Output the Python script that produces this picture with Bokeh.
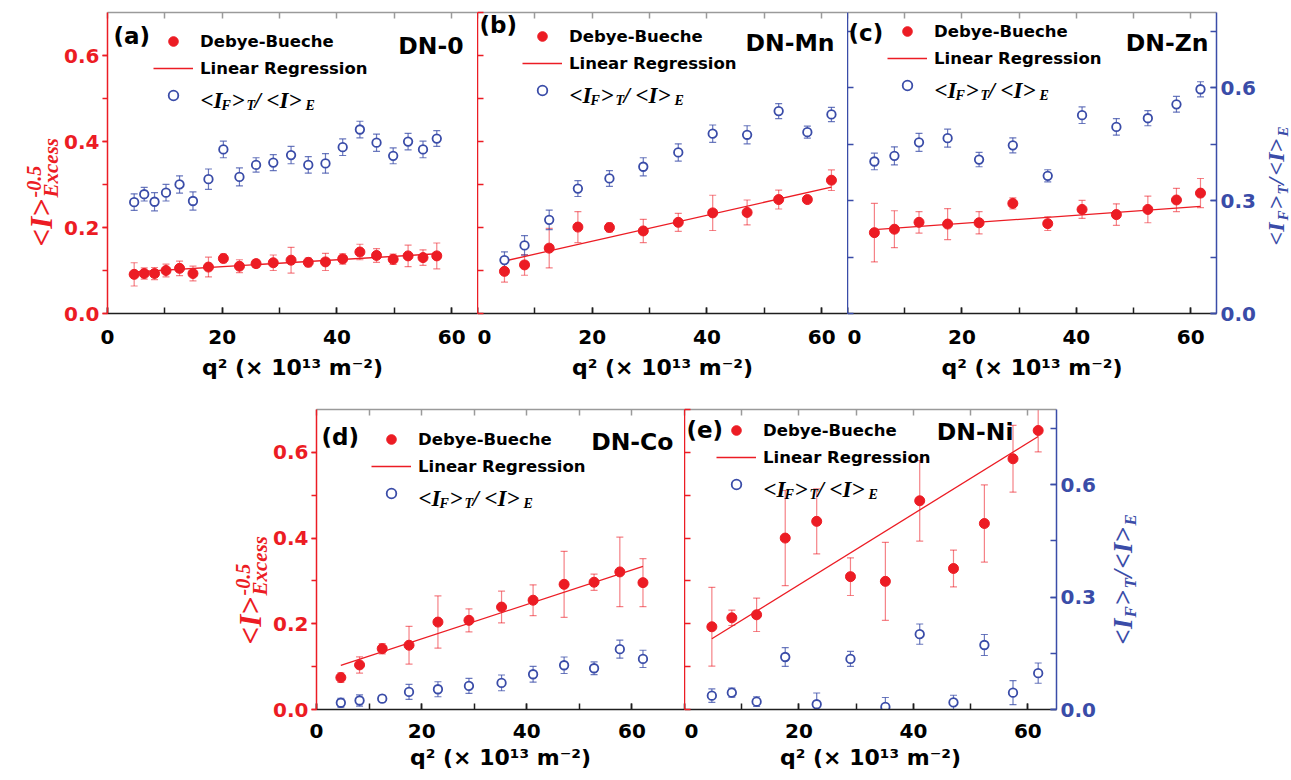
import math
from bokeh.plotting import figure
from bokeh.models import (Range1d, LinearAxis, SingleIntervalTicker, FixedTicker, PrintfTickFormatter,
                          Whisker, TeeHead, ColumnDataSource, Legend, LegendItem, Label)
from bokeh.layouts import column, row
from bokeh.embed import file_html
from bokeh.resources import INLINE

# ---------------- data ----------------
# (a) DN-0
q2_a = [4.65, 6.4, 8.2, 10.2, 12.56, 14.9, 17.6, 20.2, 23.0, 25.9, 28.9, 32.0, 35.0, 38.0, 41.0, 44.0, 46.9, 49.8, 52.4, 55.0, 57.4]
db_a = [0.091, 0.093, 0.093, 0.100, 0.105, 0.093, 0.108, 0.128, 0.110, 0.116, 0.118, 0.124, 0.119, 0.120, 0.127, 0.143, 0.135, 0.126, 0.134, 0.130, 0.134]
db_err_a = [0.027, 0.013, 0.014, 0.015, 0.017, 0.017, 0.023, 0.010, 0.015, 0.009, 0.018, 0.030, 0.010, 0.020, 0.012, 0.018, 0.016, 0.012, 0.025, 0.018, 0.030]
ratio_a = [0.296, 0.317, 0.297, 0.321, 0.343, 0.299, 0.357, 0.436, 0.363, 0.395, 0.401, 0.421, 0.395, 0.399, 0.442, 0.489, 0.454, 0.419, 0.457, 0.436, 0.465]
ratio_err_a = [0.022, 0.018, 0.024, 0.022, 0.023, 0.024, 0.027, 0.022, 0.024, 0.019, 0.021, 0.023, 0.022, 0.026, 0.022, 0.022, 0.023, 0.021, 0.022, 0.022, 0.021]
fit_x_a = [4.65, 57.4]
fit_y_a = [0.0965, 0.139]

# common q^2 values of panels (b) and (c)
q2_b = [4.7, 8.2, 12.5, 17.5, 23.0, 28.9, 35.0, 41.0, 47.0, 52.5, 57.5, 61.7]

# (b) DN-Mn
db_b = [0.098, 0.113, 0.152, 0.201, 0.200, 0.192, 0.212, 0.234, 0.235, 0.265, 0.265, 0.310]
db_err_b = [0.025, 0.024, 0.046, 0.036, 0.010, 0.027, 0.021, 0.041, 0.029, 0.022, 0.005, 0.024]
ratio_b = [0.142, 0.181, 0.249, 0.332, 0.359, 0.390, 0.428, 0.478, 0.475, 0.538, 0.482, 0.529]
ratio_err_b = [0.022, 0.026, 0.026, 0.021, 0.021, 0.024, 0.023, 0.023, 0.024, 0.020, 0.016, 0.019]
fit_x_b = [4.7, 61.7]
fit_y_b = [0.122, 0.294]

# (c) DN-Zn
db_c = [0.188, 0.196, 0.212, 0.208, 0.211, 0.256, 0.209, 0.242, 0.230, 0.242, 0.264, 0.280]
db_err_c = [0.068, 0.043, 0.025, 0.036, 0.026, 0.013, 0.016, 0.021, 0.025, 0.031, 0.027, 0.034]
ratio_c = [0.404, 0.419, 0.455, 0.466, 0.409, 0.447, 0.366, 0.527, 0.496, 0.519, 0.556, 0.596]
ratio_err_c = [0.022, 0.024, 0.024, 0.024, 0.019, 0.020, 0.016, 0.022, 0.022, 0.020, 0.021, 0.020]
fit_x_c = [4.7, 61.7]
fit_y_c = [0.195, 0.249]

# (d) DN-Co
q2_d = [4.63, 8.19, 12.5, 17.6, 23.1, 29.0, 35.2, 41.2, 47.1, 52.8, 57.7, 62.1]
db_d = [0.0745, 0.104, 0.142, 0.150, 0.204, 0.208, 0.239, 0.255, 0.292, 0.297, 0.321, 0.296]
db_err_d = [0.011, 0.019, 0.012, 0.044, 0.061, 0.027, 0.037, 0.036, 0.077, 0.019, 0.081, 0.056]
ratio_d = [0.018, 0.024, 0.029, 0.047, 0.054, 0.063, 0.071, 0.094, 0.118, 0.110, 0.161, 0.135]
ratio_err_d = [0.012, 0.015, 0.009, 0.020, 0.020, 0.020, 0.021, 0.021, 0.022, 0.017, 0.024, 0.023]
fit_x_d = [4.63, 62.1]
fit_y_d = [0.103, 0.334]

# (e) DN-Ni
q2_e = [4.78, 8.27, 12.6, 17.6, 23.1, 29.0, 35.1, 41.1, 47.0, 52.4, 57.4, 61.8]
db_e = [0.193, 0.214, 0.221, 0.400, 0.439, 0.310, 0.299, 0.487, 0.329, 0.434, 0.585, 0.651]
db_err_e = [0.092, 0.018, 0.039, 0.111, 0.076, 0.044, 0.091, 0.094, 0.043, 0.090, 0.078, 0.050]
ratio_e = [0.037, 0.045, 0.021, 0.140, 0.014, 0.135, 0.007, 0.201, 0.019, 0.172, 0.045, 0.097]
ratio_err_e = [0.018, 0.012, 0.013, 0.025, 0.030, 0.020, 0.025, 0.027, 0.019, 0.028, 0.032, 0.027]
fit_x_e = [4.78, 61.8]
fit_y_e = [0.165, 0.637]

panel_tags = ["(a)", "(b)", "(c)", "(d)", "(e)"]
sample_names = ["DN-0", "DN-Mn", "DN-Zn", "DN-Co", "DN-Ni"]
legend_labels = ["Debye-Bueche", "Linear Regression"]
x_title = "q² (× 10¹³ m⁻²)"

# ---------------- styles ----------------
RED = "#EC1C24"
BLUE = "#3A4CA8"
DARK = "#1E1E1E"
GREY = "#9A9A9A"
SANS = "DejaVu Sans"
SERIF = "Liberation Serif"
RED_MINOR = [i / 10 for i in range(0, 8)]
BLUE_MINOR = [i * 0.15 for i in range(0, 6)]
TOP_MINOR = list(range(0, 71, 10))


def x_axes(p, tick_off, label_off):
    bot = LinearAxis(ticker=SingleIntervalTicker(interval=20, num_minor_ticks=2),
                     major_tick_in=6, major_tick_out=0, minor_tick_in=6, minor_tick_out=0,
                     axis_line_color=DARK, major_tick_line_color=DARK, minor_tick_line_color=DARK,
                     axis_line_width=1.5, major_tick_line_width=1.5, minor_tick_line_width=1.5,
                     major_label_text_font=SANS, major_label_text_font_style="bold",
                     major_label_text_font_size="20px", major_label_text_color="black",
                     major_label_standoff=tick_off,
                     axis_label=x_title, axis_label_text_font=SANS,
                     axis_label_text_font_style="bold", axis_label_text_font_size="22px",
                     axis_label_text_color="black", axis_label_standoff=label_off)
    p.add_layout(bot, "below")
    top = LinearAxis(ticker=FixedTicker(ticks=[], minor_ticks=TOP_MINOR),
                     major_tick_in=0, major_tick_out=0, minor_tick_in=6, minor_tick_out=0,
                     axis_line_color=GREY, minor_tick_line_color=GREY, axis_line_width=1.5,
                     minor_tick_line_width=1.5, major_label_standoff=0)
    p.add_layout(top, "above")


def y_axis(p, side, scale, labelled):
    color = RED if scale == "red" else BLUE
    rng = "default" if scale == "red" else "blue"
    if labelled:
        outward = side == "left"
        ax = LinearAxis(y_range_name=rng,
                        ticker=SingleIntervalTicker(interval=0.2 if scale == "red" else 0.3,
                                                    num_minor_ticks=2),
                        formatter=PrintfTickFormatter(format="%.1f"),
                        major_tick_in=0 if outward else 6, major_tick_out=5 if outward else 0,
                        minor_tick_in=0 if outward else 6, minor_tick_out=5 if outward else 0,
                        major_label_text_font=SANS, major_label_text_font_style="bold",
                        major_label_text_color=color, major_label_text_font_size="20px",
                        major_label_standoff=3 if side == "left" else 4)
    else:
        ax = LinearAxis(y_range_name=rng,
                        ticker=FixedTicker(ticks=[], minor_ticks=RED_MINOR if scale == "red" else BLUE_MINOR),
                        major_tick_in=0, major_tick_out=0, minor_tick_in=6, minor_tick_out=0,
                        major_label_standoff=0)
    ax.axis_line_color = color
    ax.major_tick_line_color = color
    ax.minor_tick_line_color = color
    ax.axis_line_width = 1.5
    ax.major_tick_line_width = 1.5
    ax.minor_tick_line_width = 1.5
    p.add_layout(ax, side)


def rich(p, pieces, color, angle=0.0):
    for txt, x, y, size in pieces:
        p.add_layout(Label(x=x, y=y, x_units="screen", y_units="screen", text=txt,
                           angle=angle, text_font=SERIF, text_font_style="bold italic",
                           text_font_size=f"{size}px", text_color=color,
                           text_align="left", text_baseline="alphabetic"))


def panel(q2, db, db_err, ratio, ratio_err, fx, fy, xmax, fw, fh, borders, offs,
          axes, tag, name, tag_pos, name_pos, leg_pos):
    bl, br, bt, bb = borders
    p = figure(frame_width=fw, frame_height=fh, x_range=Range1d(0, xmax), y_range=Range1d(0, 0.7),
               x_axis_location=None, y_axis_location=None, toolbar_location=None,
               output_backend="svg", min_border_left=bl, min_border_right=br,
               min_border_top=bt, min_border_bottom=bb, outline_line_color=None,
               background_fill_color="white", border_fill_color="white")
    p.extra_y_ranges = {"blue": Range1d(0, 0.8)}
    p.xgrid.visible = False
    p.ygrid.visible = False
    x_axes(p, *offs)
    for side, scale, labelled in axes:
        y_axis(p, side, scale, labelled)

    s_db = ColumnDataSource(dict(x=q2, y=db,
                                 lo=[v - e for v, e in zip(db, db_err)],
                                 hi=[v + e for v, e in zip(db, db_err)]))
    s_r = ColumnDataSource(dict(x=q2, y=ratio,
                                lo=[v - e for v, e in zip(ratio, ratio_err)],
                                hi=[v + e for v, e in zip(ratio, ratio_err)]))
    for src, col, alpha, rname in ((s_db, RED, 0.55, "default"), (s_r, BLUE, 0.75, "blue")):
        p.add_layout(Whisker(source=src, base="x", lower="lo", upper="hi", dimension="height",
                             y_range_name=rname, level="underlay",
                             line_color=col, line_alpha=alpha, line_width=1.2,
                             upper_head=TeeHead(size=7, line_color=col, line_alpha=alpha, line_width=1.2),
                             lower_head=TeeHead(size=7, line_color=col, line_alpha=alpha, line_width=1.2)))
    r_fit = p.line(fx, fy, line_color=RED, line_width=1.3)
    r_db = p.scatter("x", "y", source=s_db, size=10, fill_color=RED, line_color=RED)
    r_r = p.scatter("x", "y", source=s_r, y_range_name="blue", size=8.5, fill_color="white",
                    line_color=BLUE, line_width=1.8)

    lx, ltop = leg_pos
    leg_h = 3 * 24 + 2 * 3
    leg = Legend(items=[LegendItem(label=legend_labels[0], renderers=[r_db]),
                        LegendItem(label=legend_labels[1], renderers=[r_fit]),
                        LegendItem(label=" ", renderers=[r_r])],
                 location=(lx, fh - ltop - leg_h), glyph_width=40, glyph_height=24, label_height=24,
                 spacing=3, padding=0, margin=0, label_standoff=7,
                 border_line_color=None, background_fill_alpha=0,
                 label_text_font=SANS, label_text_font_style="bold", label_text_font_size="16.5px",
                 label_text_color="black")
    p.add_layout(leg)
    # third legend label with sub-scripts
    x0 = lx + 47
    yb = fh - (ltop + 2 * 27 + 12 + 5)
    rich(p, [("<I", x0, yb, 23), ("F", x0 + 21, yb - 5, 14), (">", x0 + 31, yb, 23),
             ("T", x0 + 46, yb - 5, 14), ("/", x0 + 54, yb, 23), ("<I>", x0 + 66, yb, 23),
             ("E", x0 + 105, yb - 5, 14)], "black")

    p.add_layout(Label(x=tag_pos[0], y=fh - tag_pos[1], x_units="screen", y_units="screen",
                       text=tag, text_font=SANS, text_font_style="bold", text_font_size="23px",
                       text_color="black", text_align="left", text_baseline="middle"))
    p.add_layout(Label(x=name_pos[0], y=fh - name_pos[1], x_units="screen", y_units="screen",
                       text=name, text_font=SANS, text_font_style="bold", text_font_size="23.5px",
                       text_color="black", text_align="right", text_baseline="middle"))
    return p


def title_fig(fw, fh, bt, bb, pieces, bx, by, color):
    t = figure(frame_width=fw, frame_height=fh, x_range=Range1d(0, 1), y_range=Range1d(0, 1),
               x_axis_location=None, y_axis_location=None, toolbar_location=None,
               output_backend="svg", min_border_left=0, min_border_right=0,
               min_border_top=bt, min_border_bottom=bb, outline_line_color=None,
               background_fill_color="white", border_fill_color="white")
    t.xgrid.visible = False
    t.ygrid.visible = False
    # rotated text reading bottom to top; (shift right of baseline, distance along text)
    rich(t, [(s, bx + dx, by + dy, z) for s, dx, dy, z in pieces], color, angle=math.pi / 2)
    return t


left_title = [("<I>", 0, 0, 31), ("-0.5", -8, 49, 20), ("Excess", 9, 49, 21)]
right_title_c = [("<I", 0, 0, 24), ("F", 7, 25, 15), (">", 0, 36, 24), ("T", 7, 51, 15),
                 ("/", 0, 61, 24), ("<I>", 0, 70, 24), ("E", 7, 109, 15)]
right_title_e = [("<I", 0, 0, 27), ("F", 8, 27, 17), (">", 0, 39, 27), ("T", 8, 56, 17),
                 ("/", 0, 67, 27), ("<I>", 0, 76, 27), ("E", 8, 119, 17)]

ROW1 = (16, 8)
ROW2 = (14, 4)

ta = title_fig(61, 301, 12, 91, left_title, 41, 67, RED)
pa = panel(q2_a, db_a, db_err_a, ratio_a, ratio_err_a, fit_x_a, fit_y_a, 64.5, 370, 301,
           (44, 0, 12, 91), ROW1, [("left", "red", True)], panel_tags[0], sample_names[0],
           (6, 23), (356, 33), (46, 17))
pb = panel(q2_b, db_b, db_err_b, ratio_b, ratio_err_b, fit_x_b, fit_y_b, 64.5, 370, 301,
           (0, 0, 12, 91), ROW1, [("left", "red", False)], panel_tags[1], sample_names[1],
           (2, 12), (357, 30), (45, 12))
pc = panel(q2_b, db_c, db_err_c, ratio_c, ratio_err_c, fit_x_c, fit_y_c, 64.5, 369, 301,
           (0, 40, 12, 91), ROW1, [("left", "blue", False), ("right", "blue", True)],
           panel_tags[2], sample_names[2], (1, 20), (361, 30), (40, 7))
tc = title_fig(32, 301, 12, 91, right_title_c, 17, 68, BLUE)

td = title_fig(270, 300, 5, 61, left_title, 250, 65, RED)
pd_ = panel(q2_d, db_d, db_err_d, ratio_d, ratio_err_d, fit_x_d, fit_y_d, 70, 368, 300,
            (44, 0, 5, 61), ROW2, [("left", "red", True)], panel_tags[3], sample_names[3],
            (5, 27), (357, 32), (55, 18))
pe = panel(q2_e, db_e, db_err_e, ratio_e, ratio_err_e, fit_x_e, fit_y_e, 65, 372, 300,
           (0, 40, 5, 61), ROW2, [("left", "red", False), ("right", "blue", True)],
           panel_tags[4], sample_names[4], (2, 20), (329, 22), (32, 9))
te = title_fig(42, 300, 5, 61, right_title_e, 24, 65, BLUE)

layout = column(row(ta, pa, pb, pc, tc), row(td, pd_, pe, te))
open("out.html", "w").write(file_html(layout, INLINE))
